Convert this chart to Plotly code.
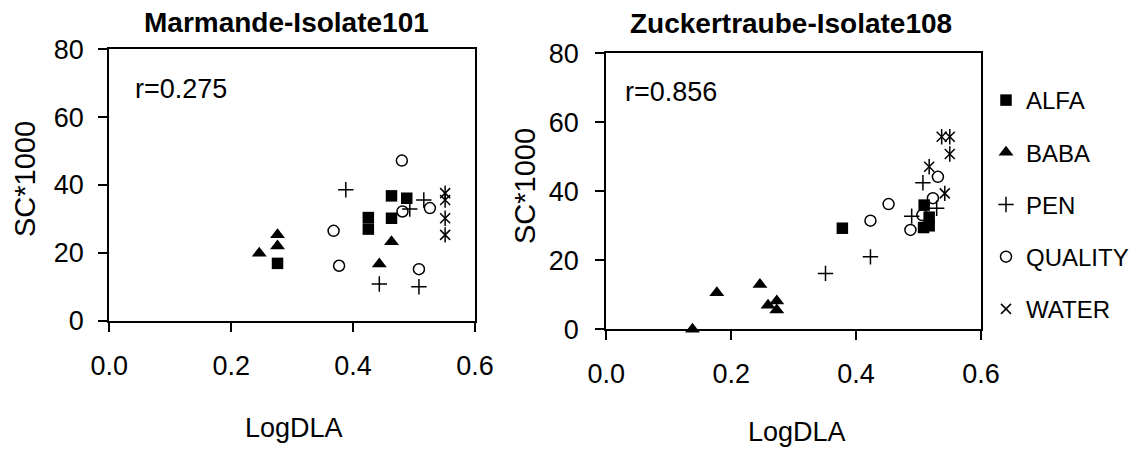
import plotly.graph_objects as go

W, H = 1140, 451

treatments = ["ALFA", "BABA", "PEN", "QUALITY", "WATER"]

# Left panel: Marmande-Isolate101
m_alfa_x = [0.276, 0.425, 0.425, 0.463, 0.463, 0.488]
m_alfa_y = [16.9, 30.4, 27.0, 36.8, 30.2, 36.1]
m_baba_x = [0.246, 0.276, 0.276, 0.443, 0.463]
m_baba_y = [19.9, 25.3, 22.0, 16.7, 23.3]
m_pen_x = [0.388, 0.443, 0.493, 0.508, 0.516]
m_pen_y = [38.6, 10.8, 32.9, 10.0, 35.6]
m_quality_x = [0.368, 0.377, 0.480, 0.481, 0.508, 0.526]
m_quality_y = [26.5, 16.2, 47.2, 32.2, 15.2, 33.2]
m_water_x = [0.551, 0.551, 0.551, 0.551]
m_water_y = [37.6, 35.6, 30.2, 25.3]

# Right panel: Zuckertraube-Isolate108
z_alfa_x = [0.378, 0.509, 0.517, 0.508, 0.517]
z_alfa_y = [29.3, 36.0, 32.5, 29.5, 30.0]
z_baba_x = [0.138, 0.177, 0.246, 0.259, 0.273, 0.273]
z_baba_y = [0.0, 10.6, 13.0, 7.0, 8.2, 5.6]
z_pen_x = [0.351, 0.423, 0.489, 0.507, 0.529]
z_pen_y = [16.2, 21.0, 32.8, 42.5, 35.1]
z_quality_x = [0.423, 0.452, 0.487, 0.506, 0.523, 0.531]
z_quality_y = [31.5, 36.3, 28.8, 33.1, 38.0, 44.2]
z_water_x = [0.517, 0.542, 0.537, 0.550, 0.550]
z_water_y = [47.1, 39.4, 55.8, 55.8, 50.8]

titles = ["Marmande-Isolate101", "Zuckertraube-Isolate108"]
r_labels = ["r=0.275", "r=0.856"]
x_title = "LogDLA"
y_title = "SC*1000"
x_ticks = [0.0, 0.2, 0.4, 0.6]
y_ticks = [0, 20, 40, 60, 80]

FONT = "Liberation Sans, Arial, sans-serif"
BLK = "black"

def px(x):
    return x / W

def py(y):
    return 1 - y / H

styles = {
    "ALFA": dict(symbol="square", size=11.5, color=BLK),
    "BABA": dict(symbol="triangle-up", size=13, color=BLK),
    "PEN": dict(symbol="cross-thin-open", size=11, color=BLK, line=dict(color=BLK, width=1.5)),
    "QUALITY": dict(symbol="circle-open", size=11, color=BLK, line=dict(color=BLK, width=1.5)),
    "WATER": dict(symbol="x-thin-open", size=10, color=BLK, line=dict(color=BLK, width=1.5)),
}

panels = [
    ("x", "y", {"ALFA": (m_alfa_x, m_alfa_y), "BABA": (m_baba_x, m_baba_y),
                "PEN": (m_pen_x, m_pen_y), "QUALITY": (m_quality_x, m_quality_y),
                "WATER": (m_water_x, m_water_y)}, False),
    ("x2", "y2", {"ALFA": (z_alfa_x, z_alfa_y), "BABA": (z_baba_x, z_baba_y),
                  "PEN": (z_pen_x, z_pen_y), "QUALITY": (z_quality_x, z_quality_y),
                  "WATER": (z_water_x, z_water_y)}, True),
]

fig = go.Figure()
for xa, ya, data, show in panels:
    for t in treatments:
        xs, ys = data[t]
        fig.add_trace(go.Scatter(
            x=xs, y=ys, mode="markers", name=t, xaxis=xa, yaxis=ya,
            marker=styles[t], showlegend=show, legendgroup=t, cliponaxis=False))
        if t == "WATER":
            fig.add_trace(go.Scatter(
                x=xs, y=ys, mode="markers", name=t, xaxis=xa, yaxis=ya,
                marker=dict(symbol="line-ns-open", size=11, color=BLK,
                            line=dict(color=BLK, width=1.5)),
                showlegend=False, legendgroup=t, cliponaxis=False, hoverinfo="skip"))

axis_common = dict(showline=True, linecolor=BLK, linewidth=2, mirror=True,
                   ticks="outside", ticklen=9, tickwidth=1.5, tickcolor=BLK,
                   showgrid=False, zeroline=False, automargin=False,
                   tickfont=dict(family=FONT, size=27, color=BLK))

# pixel geometry of the two plot boxes
L = dict(x0=109.3, x1=475.0, y0=49.3, y1=320.7)
R = dict(x0=606.3, x1=981.0, y0=53.3, y1=329.3)

fig.update_layout(
    template="none",
    width=W, height=H, margin=dict(l=0, r=0, t=0, b=0, pad=0), autosize=False,
    paper_bgcolor="white", plot_bgcolor="white",
    font=dict(family=FONT, color=BLK),
    xaxis=dict(domain=[px(L["x0"]), px(L["x1"])], range=[0, 0.6], tickvals=x_ticks,
               tickformat=".1f", anchor="y", ticklabelstandoff=11, **axis_common),
    yaxis=dict(domain=[py(L["y1"]), py(L["y0"])], range=[0, 80], tickvals=y_ticks,
               anchor="x", ticklabelstandoff=9, **axis_common),
    xaxis2=dict(domain=[px(R["x0"]), px(R["x1"])], range=[0, 0.6], tickvals=x_ticks,
                tickformat=".1f", anchor="y2", ticklabelstandoff=10, **axis_common),
    yaxis2=dict(domain=[py(R["y1"]), py(R["y0"])], range=[0, 80], tickvals=y_ticks,
                anchor="x2", ticklabelstandoff=11, **axis_common),
    legend=dict(x=px(986), y=py(78), xanchor="left", yanchor="top",
                font=dict(family=FONT, size=24, color=BLK), borderwidth=0,
                tracegroupgap=18, bgcolor="rgba(0,0,0,0)"),
)

ann = []
ann.append(dict(text="<b>%s</b>" % titles[0], x=px(286), y=py(22), font=dict(size=28)))
ann.append(dict(text="<b>%s</b>" % titles[1], x=px(791), y=py(23), font=dict(size=28)))
ann.append(dict(text=r_labels[0], x=px(132.7), y=py(88.5), xanchor="left", font=dict(size=27)))
ann.append(dict(text=r_labels[1], x=px(622.7), y=py(92), xanchor="left", font=dict(size=27)))
ann.append(dict(text=x_title, x=px(294), y=py(428), font=dict(size=27)))
ann.append(dict(text=x_title, x=px(796.7), y=py(431.7), font=dict(size=27)))
ann.append(dict(text=y_title, x=px(25), y=py(179), textangle=-90, font=dict(size=29)))
ann.append(dict(text=y_title, x=px(525), y=py(186), textangle=-90, font=dict(size=29)))
for a in ann:
    a.setdefault("xanchor", "center")
    a.update(xref="paper", yref="paper", yanchor="middle", showarrow=False)
    a["font"].update(family=FONT, color=BLK)
fig.update_layout(annotations=ann)

fig.write_html("out.html")
